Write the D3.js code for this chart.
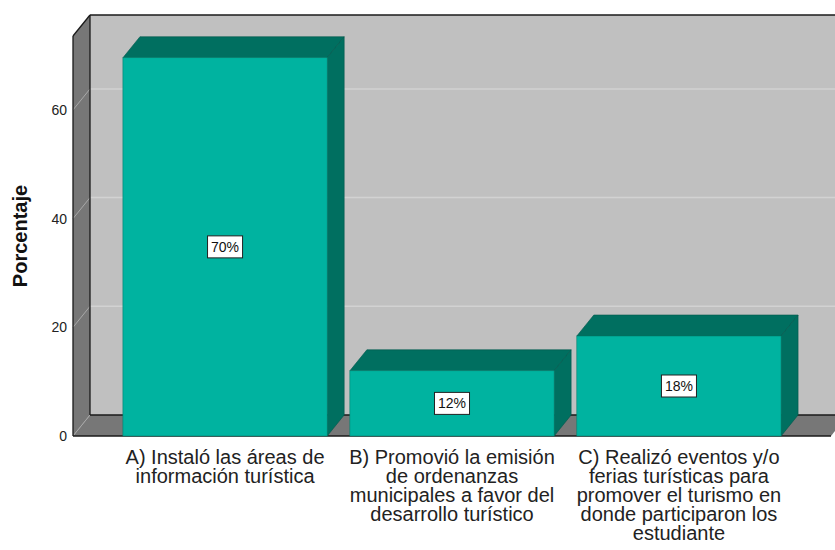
<!DOCTYPE html>
<html>
<head>
<meta charset="utf-8">
<script src="https://cdn.jsdelivr.net/npm/d3@7"></script>
<style>
  body { margin: 0; background: #fff; }
  svg { font-family: "Liberation Sans", Arial, sans-serif; }
</style>
</head>
<body>
<div id="chart"></div>
<script>
// data
var categories = ["A", "B", "C"];
var values = [69.6, 12.0, 18.4];
var valueLabels = ["70%", "12%", "18%"];
var categoryLabels = [
    ["A) Instaló las áreas de", "información turística"],
    ["B) Promovió la emisión", "de ordenanzas", "municipales a favor del", "desarrollo turístico"],
    ["C) Realizó eventos y/o", "ferias turísticas para", "promover el turismo en", "donde participaron los", "estudiante"]
];
var yTicks = [0, 20, 40, 60];
var yTop = 73.6;

var width = 835, height = 550;
// front plane of the 3d box and its depth offset
var pLeft = 73, pRight = 831, pBottom = 436, pTop = 36;
var dx = 17, dy = -21;

var colFront = "#00b3a0", colDark = "#006f60";
var colWall = "#c0c0c0", colSide = "#777777";

var svg = d3.select("#chart")
    .append("svg")
    .attr("width", width)
    .attr("height", height);

var x = d3.scaleBand()
    .domain(categories)
    .range([pLeft, pRight])
    .paddingInner(0.1)
    .paddingOuter(0.22);

var y = d3.scaleLinear()
    .domain([0, yTop])
    .range([pBottom, pTop]);

function pts(a) { return a.map(function (p) { return p.join(","); }).join(" "); }

// back wall
svg.append("polygon")
    .attr("points", pts([[pLeft + dx, pTop + dy], [pRight + dx, pTop + dy], [pRight + dx, pBottom + dy], [pLeft + dx, pBottom + dy]]))
    .attr("fill", colWall);

// left wall
svg.append("polygon")
    .attr("points", pts([[pLeft, pTop], [pLeft + dx, pTop + dy], [pLeft + dx, pBottom + dy], [pLeft, pBottom]]))
    .attr("fill", colSide);

// floor
svg.append("polygon")
    .attr("points", pts([[pLeft, pBottom], [pRight, pBottom], [pRight + dx, pBottom + dy], [pLeft + dx, pBottom + dy]]))
    .attr("fill", colSide);

// grid lines: diagonal on left wall, horizontal on back wall
yTicks.forEach(function (t) {
    var yy = y(t);
    svg.append("line")
        .attr("x1", pLeft).attr("y1", yy)
        .attr("x2", pLeft + dx).attr("y2", yy + dy)
        .attr("stroke", "#a8a8a8").attr("stroke-width", 1);
    if (t > 0) {
        svg.append("line")
            .attr("x1", pLeft + dx).attr("y1", yy + dy)
            .attr("x2", pRight + dx).attr("y2", yy + dy)
            .attr("stroke", "#d2d2d2").attr("stroke-width", 1.5);
    }
});

// box edges
var edges = [
    [[pLeft, pTop], [pLeft, pBottom]],
    [[pLeft, pTop], [pLeft + dx, pTop + dy]],
    [[pLeft + dx, pTop + dy], [pRight + dx, pTop + dy]],
    [[pLeft + dx, pTop + dy], [pLeft + dx, pBottom + dy]],
    [[pLeft + dx, pBottom + dy], [pRight + dx, pBottom + dy]],
    [[pLeft, pBottom], [pRight, pBottom]]
];
edges.forEach(function (e) {
    svg.append("line")
        .attr("x1", e[0][0]).attr("y1", e[0][1])
        .attr("x2", e[1][0]).attr("y2", e[1][1])
        .attr("stroke", "#1a1a1a").attr("stroke-width", 1.3);
});

// y tick labels
svg.append("g")
    .selectAll("text")
    .data(yTicks)
    .enter().append("text")
    .attr("x", 67)
    .attr("y", function (d) { return y(d); })
    .attr("dy", "0.35em")
    .attr("text-anchor", "end")
    .attr("font-size", 14)
    .attr("fill", "#222")
    .text(function (d) { return d; });

// axis title
svg.append("text")
    .attr("transform", "translate(27," + 236 + ") rotate(-90)")
    .attr("text-anchor", "middle")
    .attr("font-size", 20)
    .attr("font-weight", "bold")
    .attr("fill", "#111")
    .text("Porcentaje");

// bars: top, side, front
var bars = svg.append("g")
    .selectAll("g")
    .data(values)
    .enter().append("g");

bars.append("polygon")
    .attr("points", function (d, i) {
        var x0 = x(categories[i]), x1 = x0 + x.bandwidth(), yy = y(d);
        return pts([[x0, yy], [x0 + dx, yy + dy], [x1 + dx, yy + dy], [x1, yy]]);
    })
    .attr("fill", colDark).attr("stroke", "#00584c").attr("stroke-width", 0.6);

bars.append("polygon")
    .attr("points", function (d, i) {
        var x1 = x(categories[i]) + x.bandwidth(), yy = y(d);
        return pts([[x1, yy], [x1 + dx, yy + dy], [x1 + dx, pBottom + dy], [x1, pBottom]]);
    })
    .attr("fill", colDark).attr("stroke", "#00584c").attr("stroke-width", 0.6);

bars.append("rect")
    .attr("x", function (d, i) { return x(categories[i]); })
    .attr("y", function (d) { return y(d); })
    .attr("width", x.bandwidth())
    .attr("height", function (d) { return pBottom - y(d); })
    .attr("fill", colFront).attr("stroke", "#00806f").attr("stroke-width", 0.6);

// value labels in white boxes
bars.each(function (d, i) {
    var g = d3.select(this);
    var cx = x(categories[i]) + x.bandwidth() / 2;
    var cy = (y(d) + pBottom) / 2;
    var t = g.append("text")
        .attr("x", cx).attr("y", cy)
        .attr("dy", "0.35em")
        .attr("text-anchor", "middle")
        .attr("font-size", 14)
        .attr("fill", "#111")
        .text(valueLabels[i]);
    var w = t.node().getComputedTextLength() + 7;
    g.insert("rect", "text")
        .attr("x", cx - w / 2).attr("y", cy - 11)
        .attr("width", w).attr("height", 22)
        .attr("fill", "#fff").attr("stroke", "#222").attr("stroke-width", 1);
});

// category labels
svg.append("g")
    .selectAll("text")
    .data(categories)
    .enter().append("text")
    .attr("text-anchor", "middle")
    .attr("font-size", 20)
    .attr("fill", "#222")
    .each(function (c, i) {
        var t = d3.select(this);
        categoryLabels[i].forEach(function (line, j) {
            t.append("tspan")
                .attr("x", x(c) + x.bandwidth() / 2)
                .attr("y", 464 + j * 19)
                .text(line);
        });
    });
</script>
</body>
</html>
